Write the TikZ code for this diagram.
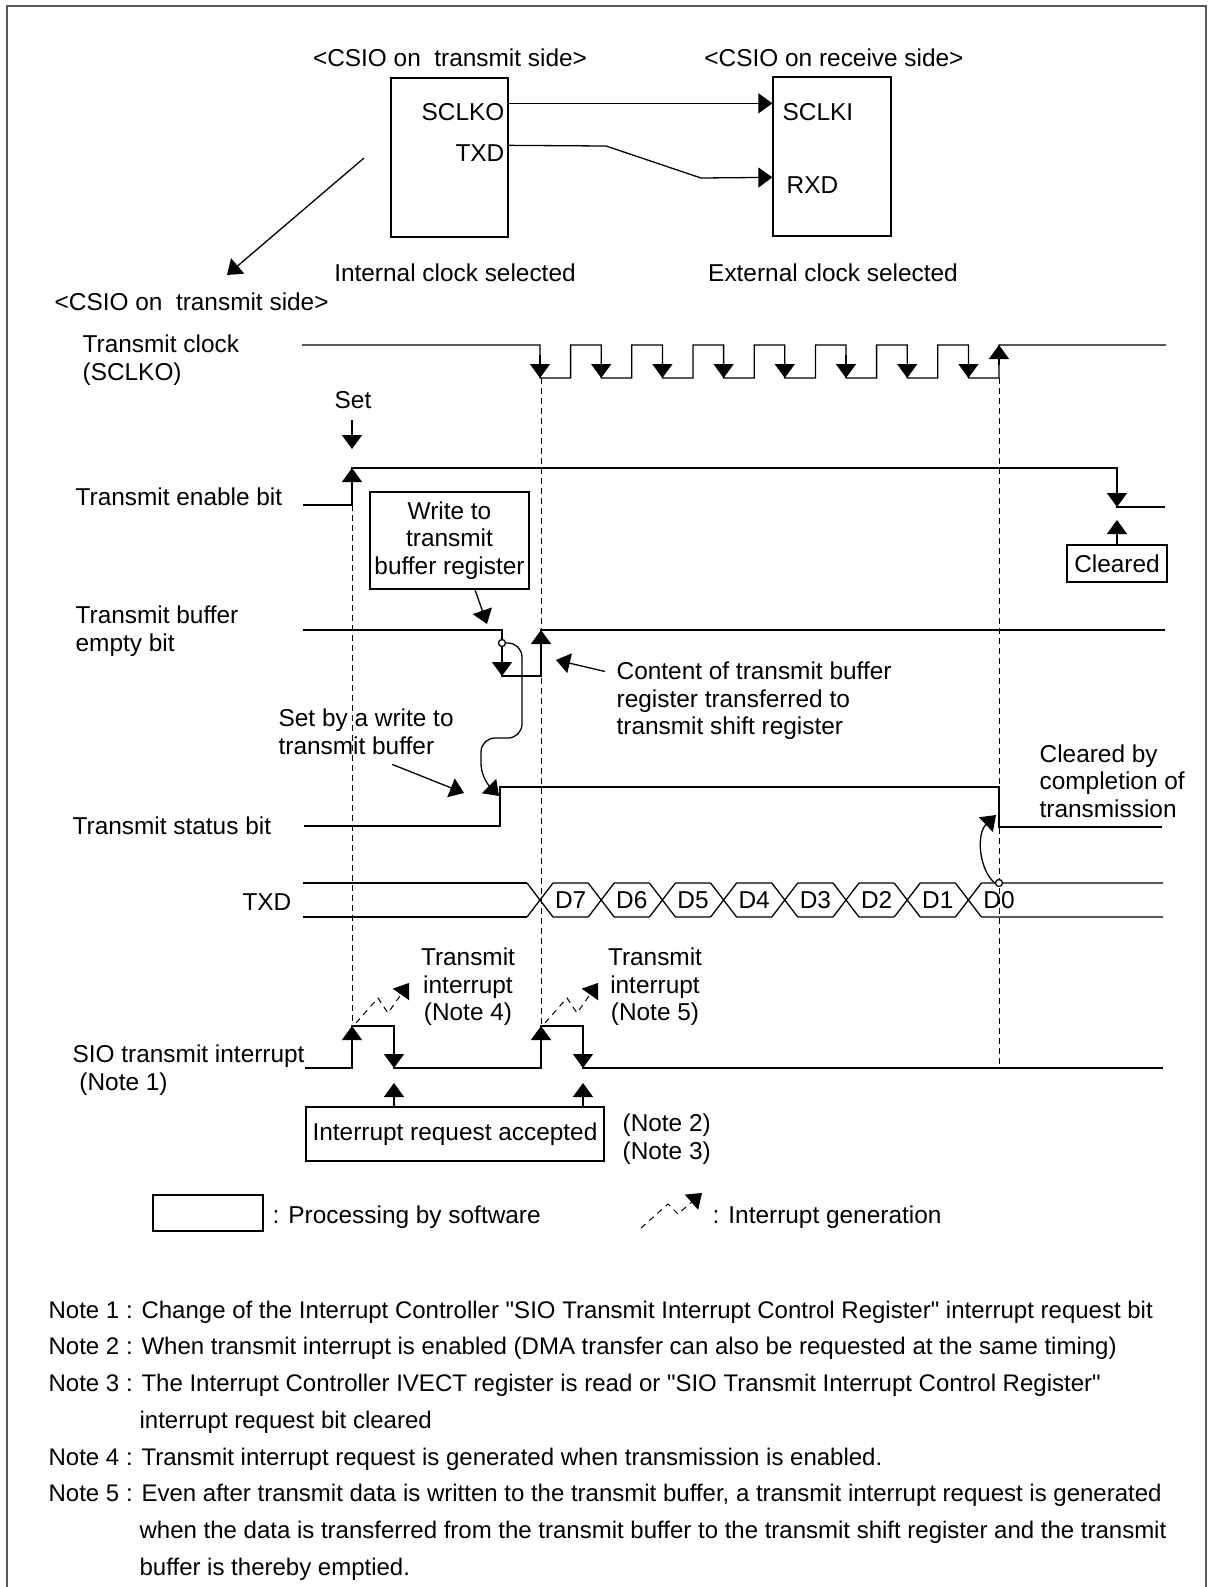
\documentclass[tikz,border=0pt]{standalone}
\usepackage{fontspec}
\setmainfont{Liberation Sans}
\usetikzlibrary{arrows.meta, positioning, calc}

\begin{document}
\begin{tikzpicture}[x=0.5pt, y=-0.5pt, line width=0.65pt,
    font=\fontsize{12.2}{13.75}\selectfont,
    lbl/.style={inner sep=0pt, text height=8.8pt, text depth=0pt},
    mlbl/.style={inner sep=0pt, align=left},
    note/.style={lbl, anchor=west, font=\fontsize{12}{14}\selectfont},
    bx/.style={draw, inner sep=0pt, align=center},
    arr/.style={-{Triangle[width=10pt,length=7pt]}},
    guide/.style={dash pattern=on 3pt off 2pt, line width=0.5pt},
    irq/.style={arr, dash pattern=on 3pt off 2.5pt, line width=0.5pt},
    dot/.style={circle, draw, fill=white, inner sep=0pt, minimum size=3.5pt}]
  \useasboundingbox (0,0) rectangle (1208,1587);
  \draw[black!65, line width=1pt] (7,6) rectangle (1206,1600);

  % CSIO connection
  \node[lbl] (txtitle) at (450,58) {<CSIO on~ transmit side>};
  \node[lbl] (rxtitle) at (834,58) {<CSIO on receive side>};
  \node[bx, minimum width=58.5pt, minimum height=79.5pt] (txbox) at (449.5,157.5) {};
  \node[bx, minimum width=59pt, minimum height=79.5pt] (rxbox) at (832,156.5) {};
  \node[lbl, anchor=east] (sclko) at (505,112) {SCLKO};
  \node[lbl, anchor=east] (txd) at (505,153) {TXD};
  \node[lbl, anchor=west] (sclki) at (782,112) {SCLKI};
  \node[lbl, anchor=west] (rxd) at (786,185) {RXD};
  \draw[arr] ($(txbox.north east)+(0,26)$) -- ($(rxbox.north west)+(0,27)$);
  \draw[arr] ($(txbox.north east)+(0,68)$) -- (606,146) -- (701,178) -- ($(rxbox.north west)+(0,101)$);
  \node[lbl] (intclk) at (455,273) {Internal clock selected};
  \node[lbl] (extclk) at (833,273) {External clock selected};
  \node[lbl, anchor=west] (tlbl) at (54,302) {<CSIO on~ transmit side>};
  \coordinate (zfrom) at (364,158);
  \coordinate (zto) at (227,275);
  \draw[arr] (zfrom) -- (zto);

  % signal names
  \node[mlbl, anchor=west] (clklbl) at (82,360) {Transmit clock\\(SCLKO)};
  \node[lbl, anchor=west] (enlbl) at (75,497) {Transmit enable bit};
  \node[mlbl, anchor=west] (buflbl) at (75,631) {Transmit buffer\\empty bit};
  \node[lbl, anchor=west] (stlbl) at (72,826) {Transmit status bit};
  \node[lbl, anchor=east] (txdlbl) at (292,902) {TXD};
  \node[mlbl, anchor=west] (irqlbl) at (72,1070) {SIO transmit interrupt\\\hspace*{3.4pt}(Note 1)};

  % guides
  \draw[guide] (352,505) -- (352,1026);
  \draw[guide] (541,378) -- (541,1026);
  \draw[guide] (999,378) -- (999,1068);

  % transmit clock
  \draw (302,345) -- (540,345)
    \foreach \k in {0,...,6} {
      -- ({540+61.2*\k},378) -- ({570.6+61.2*\k},378)
      -- ({570.6+61.2*\k},345) -- ({601.2+61.2*\k},345)}
    -- (968.4,378) -- (999,378) -- (999,345) -- (1166,345);
  \foreach \k in {0,...,7}
    \draw[arr] ({540+61.2*\k},355) -- ({540+61.2*\k},378);
  \draw[arr] (999,365) -- (999,345);

  % transmit enable bit
  \node[lbl] (setlbl) at (353,400) {Set};
  \coordinate (setpt) at (352,449);
  \draw[arr] ($(setlbl.south)+(-1,11)$) -- (setpt);
  \draw (303,505) -- (352,505) -- (352,468) -- (1117,468) -- (1117,507) -- (1165,507);
  \draw[arr] (352,490) -- (352,468);
  \draw[arr] (1117,490) -- (1117,507);
  \node[bx, minimum width=50pt, minimum height=18.5pt] (clrbox) at (1117,563.5) {Cleared};
  \coordinate (clrtip) at (1117,520);
  \draw[arr] (clrbox.north) -- (clrtip);

  % transmit buffer empty bit
  \node[bx, minimum width=79.5pt, minimum height=48.5pt] (wrbox) at (449.5,540.5) {Write to\\transmit\\buffer register};
  \coordinate (wrtip) at (487,624);
  \draw[arr] ($(wrbox.south)+(25.5,0)$) -- (wrtip);
  \draw (303,630) -- (502,630) -- (502,676) -- (541,676) -- (541,630) -- (1165,630);
  \draw[arr] (502,655) -- (502,676);
  \draw[arr] (541,655) -- (541,630);
  \node[dot] (wrdot) at (502,643) {};
  \node[mlbl, anchor=west] (cont) at (616,701) {Content of transmit buffer\\register transferred to\\transmit shift register};
  \coordinate (conttip) at (556,660);
  \draw[arr] ($(cont.north west)+(-11,10)$) -- (conttip);

  % transmit status bit
  \draw (304,826) -- (500,826) -- (500,787) -- (999,787) -- (999,827) -- (1162,827);
  \draw[arr, rounded corners=7pt] (wrdot.east) -- (522,643) -- (522,738) -- (481,738) -- (481,778) -- (499,796);
  \node[mlbl, anchor=west] (setwr) at (278,732) {Set by a write to\\transmit buffer};
  \coordinate (setwrtip) at (464,793);
  \draw[arr] ($(setwr.south)+(26,9)$) -- (setwrtip);
  \node[mlbl, anchor=west] (clrby) at (1039,781) {Cleared by\\completion of\\transmission};

  % TXD
  \draw (303,883) -- (527,883) (303,917) -- (527,917);
  \foreach \k/\d in {0/7,1/6,2/5,3/4,4/3,5/2,6/1,7/0} {
    \pgfmathsetmacro\cx{540+61.2*\k}
    \pgfmathsetmacro\nx{\k<7 ? \cx+48.2 : 1163}
    \draw ({\cx-13},883) -- ({\cx+13},917) ({\cx-13},917) -- ({\cx+13},883)
          ({\cx+13},883) -- (\nx,883) ({\cx+13},917) -- (\nx,917);
    \node[lbl] (d\d) at ({\cx+30.6},900) {D\d};
  }
  \node[dot] (d0dot) at (999,883) {};
  \coordinate (stfall) at (996,815);
  \draw[arr] (d0dot.west) .. controls (979,870) and (976,834) .. (stfall);

  % SIO transmit interrupt
  \draw (305,1068) -- (352,1068) -- (352,1026) -- (394,1026) -- (394,1068) -- (541,1068)
    -- (541,1026) -- (583,1026) -- (583,1068) -- (1163,1068);
  \foreach \x in {352,541} {
    \draw[arr] (\x,1050) -- (\x,1026);
    \draw[irq] ({\x+4},1023) -- ({\x+26},998) -- ({\x+36},1013) -- ({\x+57},983);
  }
  \foreach \x in {394,583}
    \draw[arr] (\x,1045) -- (\x,1068);
  \node[align=center, inner sep=0pt] (irq4) at (468,987) {Transmit\\interrupt\\(Note 4)};
  \node[align=center, inner sep=0pt] (irq5) at (655,987) {Transmit\\interrupt\\(Note 5)};
  \node[bx, minimum width=149pt, minimum height=27pt] (accbox) at (455,1134) {Interrupt request accepted};
  \coordinate (acc4) at (394,1083);
  \coordinate (acc5) at (583,1083);
  \draw[arr] ($(accbox.north)+(-61,0)$) -- (acc4);
  \draw[arr] ($(accbox.north)+(128,0)$) -- (acc5);
  \node[mlbl, anchor=west] (n23) at (622,1139) {(Note 2)\\(Note 3)};

  % legend
  \node[bx, minimum width=55pt, minimum height=18pt] (legbox) at (208,1213) {};
  \node[lbl, anchor=west] (legsw) at (272,1215) {: Processing by software};
  \draw[irq] (641,1228) -- (668,1204) -- (678,1214) -- (702,1193);
  \node[lbl, anchor=west] (legirq) at (712,1215) {: Interrupt generation};

  % notes
  \node[note] (note1) at (48,1310) {Note 1 : Change of the Interrupt Controller \textquotedbl SIO Transmit Interrupt Control Register\textquotedbl\ interrupt request bit};
  \node[note] (note2) at (48,1346) {Note 2 : When transmit interrupt is enabled (DMA transfer can also be requested at the same timing)};
  \node[note] (note3) at (48,1383) {Note 3 : The Interrupt Controller IVECT register is read or \textquotedbl SIO Transmit Interrupt Control Register\textquotedbl};
  \node[note] (note3b) at (139,1420) {interrupt request bit cleared};
  \node[note] (note4) at (48,1457) {Note 4 : Transmit interrupt request is generated when transmission is enabled.};
  \node[note] (note5) at (48,1493) {Note 5 : Even after transmit data is written to the transmit buffer, a transmit interrupt request is generated};
  \node[note] (note5b) at (139,1530) {when the data is transferred from the transmit buffer to the transmit shift register and the transmit};
  \node[note] (note5c) at (139,1567) {buffer is thereby emptied.};
\end{tikzpicture}
\end{document}
